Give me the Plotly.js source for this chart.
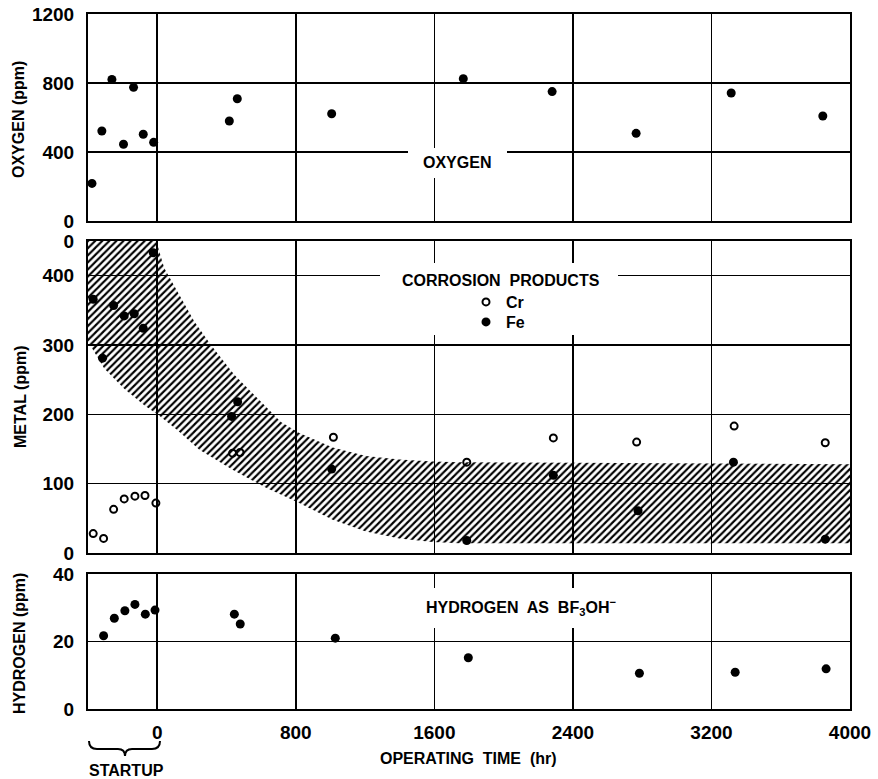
<!DOCTYPE html>
<html>
<head>
<meta charset="utf-8">
<script src="https://cdn.plot.ly/plotly-3.0.1.min.js"></script>
<style>html,body{margin:0;padding:0;background:#fff;}#chart{width:878px;height:779px;}</style>
</head>
<body>
<div id="chart"></div>
<script>
// ---- Data ----
var oxygenTime = [-377, -320, -262, -195, -137, -81, -21, 416, 462, 1007, 1767, 2280, 2765, 3314, 3843];
var oxygenPpm  = [218, 522, 821, 445, 775, 503, 456, 580, 709, 622, 825, 750, 508, 742, 609];

var feTime = [-370, -316, -252, -191, -133, -81, -23, 429, 464, 1007, 1787, 2287, 2776, 3327, 3857];
var fePpm  = [366, 281, 357, 342, 345, 324, 433, 197, 218, 121, 18, 112, 61, 131, 20];

var crTime = [-370, -310, -252, -191, -129, -71, -8, 435, 478, 1017, 1787, 2287, 2768, 3331, 3857];
var crPpm  = [28, 21, 63, 78, 82, 83, 72, 144, 145, 167, 131, 166, 160, 183, 159];

var h2Time = [-310, -248, -187, -129, -69, -13, 445, 479, 1028, 1796, 2784, 3337, 3862];
var h2Ppm  = [21.7, 26.9, 29.1, 31.0, 28.1, 29.3, 28.1, 25.2, 21.0, 15.2, 10.6, 10.9, 11.9];

// hatched band boundaries
var bandUpperTime = [-400, -200, -6, 40, 117, 214, 310, 445, 599, 714, 820, 1013, 1205, 1398, 1590, 1744, 2400, 3200, 4000];
var bandUpperPpm  = [450, 450, 450, 411, 377, 334, 300, 257, 218, 189, 173, 152, 140, 135, 132, 131, 130, 129, 128];
var bandLowerTime = [-400, -306, -191, -75, 12, 117, 243, 435, 628, 820, 1013, 1205, 1398, 1590, 1744, 2400, 3200, 4000];
var bandLowerPpm  = [305, 266, 237, 213, 198, 177, 149, 120, 94, 72, 48, 31, 21, 16, 14, 14, 14, 14];

var xTickVals = [0, 800, 1600, 2400, 3200, 4000];
var xTickText = ['0', '800', '1600', '2400', '3200', '4000'];
var oxyTickVals = [0, 400, 800, 1200];
var oxyTickText = ['0', '400', '800', '1200'];
var metalTickVals = [0, 100, 200, 300, 400, 450];
var metalTickText = ['0', '100', '200', '300', '400', '0'];
var h2TickVals = [0, 20, 40];
var h2TickText = ['0', '20', '40'];

// ---- Layout helpers (pixel -> paper) ----
var W = 878, H = 779, ML = 88, MR = 28, MT = 14, MB = 70;
var PW = W - ML - MR, PH = H - MT - MB;
function px(x) { return (x - ML) / PW; }
function py(y) { return (H - MB - y) / PH; }

var tickFont = {family: 'Liberation Sans Narrow, Liberation Sans, Arial, sans-serif', size: 19, color: '#000', weight: 700};
var labFont = {family: 'Liberation Sans, Arial, sans-serif', size: 16, color: '#000', weight: 700};
var yTitleFont = {family: 'Liberation Sans, Arial, sans-serif', size: 16, color: '#000', weight: 700};
var legFont = {family: 'Liberation Sans, Arial, sans-serif', size: 16, color: '#000', weight: 700};

function xax(anchor, showLabels) {
  return {
    anchor: anchor, range: [-400, 4000], tickvals: xTickVals, ticktext: xTickText,
    showticklabels: showLabels, showgrid: true, gridcolor: '#000', gridwidth: 1.6,
    zeroline: true, zerolinecolor: '#000', zerolinewidth: 1.6,
    showline: true, linecolor: '#000', linewidth: 2, mirror: true,
    ticks: '', tickfont: tickFont, ticklabelstandoff: 5, fixedrange: true
  };
}
function yax(anchor, dom, range, tv, tt) {
  return {
    anchor: anchor, domain: dom, range: range, tickvals: tv, ticktext: tt,
    showgrid: true, gridcolor: '#000', gridwidth: 1.6, zeroline: false,
    showline: true, linecolor: '#000', linewidth: 2, mirror: true,
    ticks: '', tickfont: tickFont, ticklabelstandoff: 8, fixedrange: true
  };
}

var traces = [
  {x: oxygenTime, y: oxygenPpm, xaxis: 'x3', yaxis: 'y3', type: 'scatter', mode: 'markers',
   marker: {color: '#000', size: 9}, showlegend: false},
  {x: bandLowerTime, y: bandLowerPpm, xaxis: 'x2', yaxis: 'y2', type: 'scatter', mode: 'lines',
   line: {width: 0, color: 'rgba(0,0,0,0)'}, showlegend: false, hoverinfo: 'skip'},
  {x: bandUpperTime, y: bandUpperPpm, xaxis: 'x2', yaxis: 'y2', type: 'scatter', mode: 'lines',
   line: {width: 0, color: 'rgba(0,0,0,0)'}, fill: 'tonexty', fillcolor: 'rgba(0,0,0,0)',
   fillpattern: {shape: '/', size: 5, solidity: 0.42, fgcolor: '#000'}, showlegend: false, hoverinfo: 'skip'},
  {x: crTime, y: crPpm, xaxis: 'x2', yaxis: 'y2', type: 'scatter', mode: 'markers', name: 'Cr',
   legend: 'legend',
   marker: {symbol: 'circle-open', color: '#000', size: 7, line: {width: 2, color: '#000'}}},
  {x: feTime, y: fePpm, xaxis: 'x2', yaxis: 'y2', type: 'scatter', mode: 'markers', name: 'Fe',
   legend: 'legend2',
   marker: {color: '#000', size: 9}},
  {x: h2Time, y: h2Ppm, xaxis: 'x', yaxis: 'y', type: 'scatter', mode: 'markers',
   marker: {color: '#000', size: 9}, showlegend: false}
];

var whiteBox = function (x0, x1, y0, y1) {
  return {type: 'rect', xref: 'paper', yref: 'paper', x0: px(x0), x1: px(x1), y0: py(y1), y1: py(y0),
          fillcolor: '#fff', line: {width: 0}, layer: 'above'};
};

function P(x, y) { return px(x).toFixed(5) + ',' + py(y).toFixed(5); }
var bracePath = 'M' + P(89, 741) + ' Q' + P(89, 749) + ' ' + P(97, 749) + ' L' + P(118, 749) +
  ' Q' + P(125, 749) + ' ' + P(125, 756) + ' Q' + P(125, 749) + ' ' + P(132, 749) +
  ' L' + P(152, 749) + ' Q' + P(160, 749) + ' ' + P(160, 741);

function ann(text, x, y, font, angle) {
  return {text: text, x: px(x), y: py(y), xref: 'paper', yref: 'paper', showarrow: false,
          xanchor: 'center', yanchor: 'middle', textangle: angle || 0, font: font};
}
function leg(y) {
  return {x: px(466), y: py(y), xanchor: 'left', yanchor: 'top', bgcolor: 'rgba(0,0,0,0)',
          font: legFont, itemclick: false, itemdoubleclick: false};
}

var layout = {
  width: W, height: H, margin: {l: ML, r: MR, t: MT, b: MB},
  paper_bgcolor: '#fff', plot_bgcolor: '#fff',
  xaxis: xax('y', true),
  xaxis2: xax('y2', false),
  xaxis3: xax('y3', false),
  yaxis: yax('x', [0, py(574)], [0, 40], h2TickVals, h2TickText),
  yaxis2: yax('x2', [py(553), py(241)], [0, 450], metalTickVals, metalTickText),
  yaxis3: yax('x3', [py(221), 1], [0, 1200], oxyTickVals, oxyTickText),
  showlegend: true,
  legend: leg(285),
  legend2: leg(305),
  shapes: [
    whiteBox(408, 507, 148, 178),
    whiteBox(380, 618, 263, 335),
    whiteBox(415, 630, 588, 628),
    {type: 'path', xref: 'paper', yref: 'paper', path: bracePath, line: {color: '#000', width: 2}}
  ],
  annotations: [
    ann('OXYGEN', 457, 163, labFont),
    ann('CORROSION  PRODUCTS', 501, 280, labFont),
    ann('HYDROGEN  AS  BF<sub>3</sub>OH<sup>\u2212</sup>', 521, 607, labFont),
    ann('OXYGEN (ppm)', 19, 120, yTitleFont, -90),
    ann('METAL (ppm)', 20, 397, yTitleFont, -90),
    ann('HYDROGEN (ppm)', 19, 644, yTitleFont, -90),
    ann('OPERATING  TIME  (hr)', 468, 758, labFont),
    ann('STARTUP', 126, 770, labFont)
  ]
};

Plotly.newPlot('chart', traces, layout, {displayModeBar: false, staticPlot: true});
</script>
</body>
</html>
